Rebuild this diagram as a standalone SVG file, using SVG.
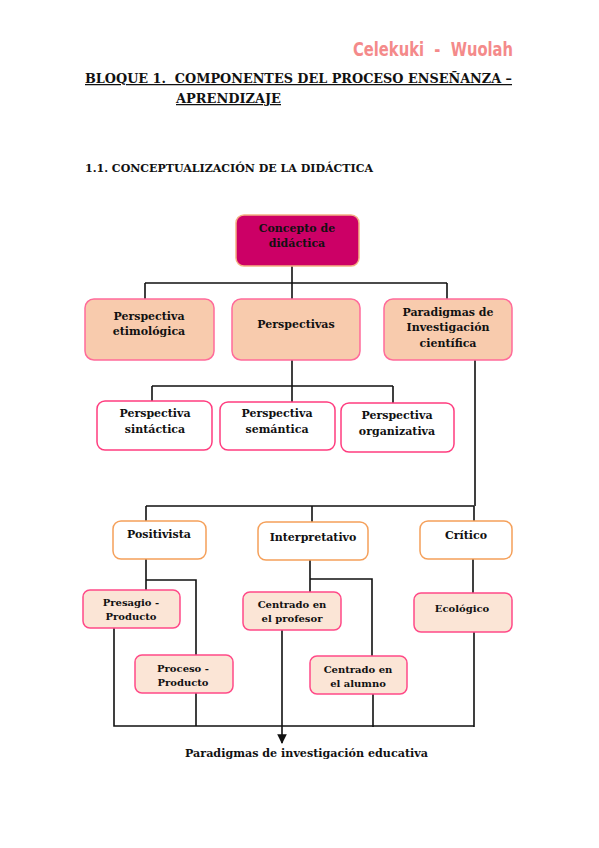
<svg xmlns="http://www.w3.org/2000/svg" width="599" height="848" viewBox="0 0 599 848">
<style>
text{font-family:"DejaVu Serif","Liberation Serif",serif;font-weight:bold;fill:#111;}
.n{font-size:11px;text-anchor:middle;}
.s{font-size:10px;text-anchor:middle;}
.ln{fill:none;stroke:#111;stroke-width:1.6;}
.top{fill:#cc0066;stroke:#f4b183;stroke-width:1.5;}
.peach{fill:#f8cbad;stroke:#ff6b9a;stroke-width:1.5;}
.white{fill:#fff;stroke:#ff3d7f;stroke-width:1.5;}
.orange{fill:#fff;stroke:#f5a05a;stroke-width:1.5;}
.light{fill:#fbe5d6;stroke:#ff4a88;stroke-width:1.5;}
</style>
<defs>
<marker id="arr" viewBox="0 0 10 10" refX="9" refY="5" markerWidth="6" markerHeight="6" orient="auto"><path d="M0,0 L10,5 L0,10 z" fill="#111"/></marker>
</defs>
<rect width="599" height="848" fill="#fff"/>
<text x="353" y="56" style="font-family:'DejaVu Sans',sans-serif;font-size:19px;fill:#f48a8a;font-weight:bold" textLength="160" lengthAdjust="spacingAndGlyphs" xml:space="preserve">Celekuki  -  Wuolah</text>
<text x="85" y="83" style="font-size:12.5px" text-decoration="underline" textLength="427" lengthAdjust="spacingAndGlyphs" xml:space="preserve">BLOQUE 1.  COMPONENTES DEL PROCESO ENSEÑANZA –</text>
<text x="176" y="103" style="font-size:12.5px" text-decoration="underline" textLength="105" lengthAdjust="spacingAndGlyphs">APRENDIZAJE</text>
<text x="85" y="172" style="font-size:11px" textLength="288" lengthAdjust="spacingAndGlyphs">1.1. CONCEPTUALIZACIÓN DE LA DIDÁCTICA</text>
<g id="connectors">
<path class="ln" d="M292,266 V283 M145,283 H447 M145,283 V299 M292,283 V299 M447,283 V299"/>
<path class="ln" d="M292,360 V386 M152,386 H393 M152,386 V401 M292,386 V402 M393,386 V403"/>
<path class="ln" d="M475,360 V506 M146,506 H474 M146,506 V521 M312,506 V522 M474,506 V521"/>
<path class="ln" d="M146,559 V590 M146,580 H196 V655 M310,560 V592 M310,579 H372 V656 M473,559 V594"/>
<path class="ln" d="M114,628 V726 H474 M196,693 V726 M373,694 V727 M474,632 V727"/>
<path class="ln" d="M282,630 V743" marker-end="url(#arr)"/>
</g>
<g id="concepto"><rect class="top" x="236" y="215" width="123" height="51" rx="8"/><text class="n" x="297" y="232">Concepto de</text><text class="n" x="297" y="247">didáctica</text></g>
<g id="etimologica"><rect class="peach" x="85" y="299" width="129" height="61" rx="9"/><text class="n" x="149" y="320">Perspectiva</text><text class="n" x="149" y="335">etimológica</text></g>
<g id="perspectivas"><rect class="peach" x="232" y="299" width="128" height="61" rx="9"/><text class="n" x="296" y="328">Perspectivas</text></g>
<g id="paradigmas"><rect class="peach" x="384" y="299" width="128" height="61" rx="9"/><text class="n" x="448" y="316">Paradigmas de</text><text class="n" x="448" y="331">Investigación</text><text class="n" x="448" y="347">científica</text></g>
<g id="sintactica"><rect class="white" x="97" y="401" width="115" height="49" rx="8"/><text class="n" x="155" y="417">Perspectiva</text><text class="n" x="155" y="433">sintáctica</text></g>
<g id="semantica"><rect class="white" x="220" y="402" width="115" height="48" rx="8"/><text class="n" x="277" y="417">Perspectiva</text><text class="n" x="277" y="433">semántica</text></g>
<g id="organizativa"><rect class="white" x="341" y="403" width="113" height="49" rx="8"/><text class="n" x="397" y="419">Perspectiva</text><text class="n" x="397" y="435">organizativa</text></g>
<g id="positivista"><rect class="orange" x="113" y="521" width="93" height="38" rx="8"/><text class="n" x="159" y="538">Positivista</text></g>
<g id="interpretativo"><rect class="orange" x="258" y="522" width="110" height="38" rx="8"/><text class="n" x="313" y="541">Interpretativo</text></g>
<g id="critico"><rect class="orange" x="420" y="521" width="92" height="38" rx="8"/><text class="n" x="466" y="539">Crítico</text></g>
<g id="presagio"><rect class="light" x="83" y="590" width="97" height="38" rx="7"/><text class="s" x="131" y="606">Presagio -</text><text class="s" x="131" y="620">Producto</text></g>
<g id="proceso"><rect class="light" x="135" y="655" width="98" height="38" rx="7"/><text class="s" x="183" y="672">Proceso -</text><text class="s" x="183" y="686">Producto</text></g>
<g id="profesor"><rect class="light" x="243" y="592" width="98" height="38" rx="7"/><text class="s" x="292" y="608">Centrado en</text><text class="s" x="292" y="622">el profesor</text></g>
<g id="alumno"><rect class="light" x="310" y="656" width="97" height="38" rx="7"/><text class="s" x="358" y="673">Centrado en</text><text class="s" x="358" y="687">el alumno</text></g>
<g id="ecologico"><rect class="light" x="414" y="593" width="98" height="39" rx="7"/><text class="s" x="462" y="612">Ecológico</text></g>
<text x="185" y="757" style="font-size:10.5px" textLength="243" lengthAdjust="spacingAndGlyphs">Paradigmas de investigación educativa</text>
</svg>
